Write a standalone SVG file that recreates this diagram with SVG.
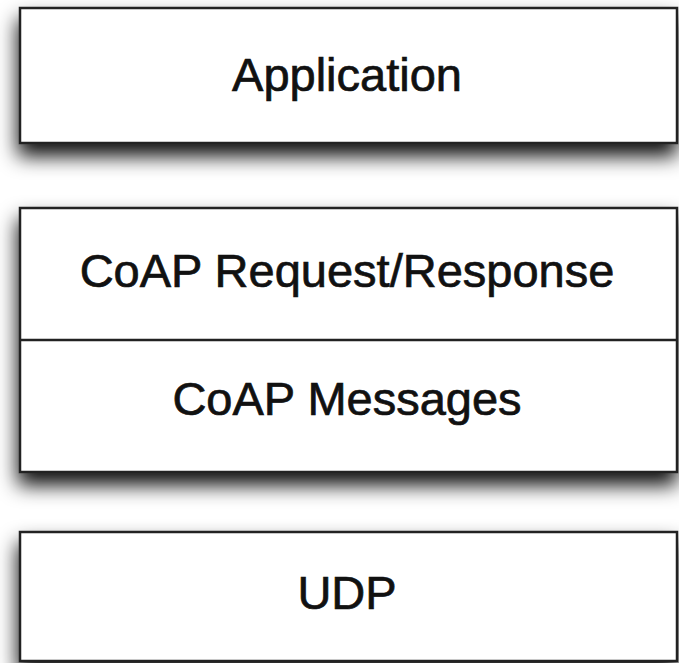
<svg xmlns="http://www.w3.org/2000/svg" width="679" height="663" viewBox="0 0 679 663">
<defs>
<filter id="sh" x="-10%" y="-20%" width="120%" height="170%">
<feDropShadow dx="-1" dy="12" stdDeviation="10" flood-color="#000" flood-opacity="0.95"/>
</filter>
</defs>
<style>
.box{fill:#fff;stroke:#222;stroke-width:2.5}
.div{stroke:#222;stroke-width:2.5}
.t{font-family:"Liberation Sans",Arial,sans-serif;font-size:47px;fill:#111;stroke:#111;stroke-width:0.7;text-anchor:middle}
</style>
<rect width="679" height="663" fill="#fff"/>
<g id="application">
<rect class="box" x="20" y="8" width="657" height="135" filter="url(#sh)"/>
<text class="t" x="347" y="91">Application</text>
</g>
<g id="coap">
<rect class="box" x="20" y="208" width="657" height="264" filter="url(#sh)"/>
<line class="div" x1="20" y1="340" x2="677" y2="340"/>
<text class="t" x="347" y="287">CoAP Request/Response</text>
<text class="t" x="347" y="415">CoAP Messages</text>
</g>
<g id="udp">
<rect class="box" x="20" y="532" width="657" height="129" filter="url(#sh)"/>
<text class="t" x="347" y="609">UDP</text>
</g>
<g id="connectors"/>
</svg>
